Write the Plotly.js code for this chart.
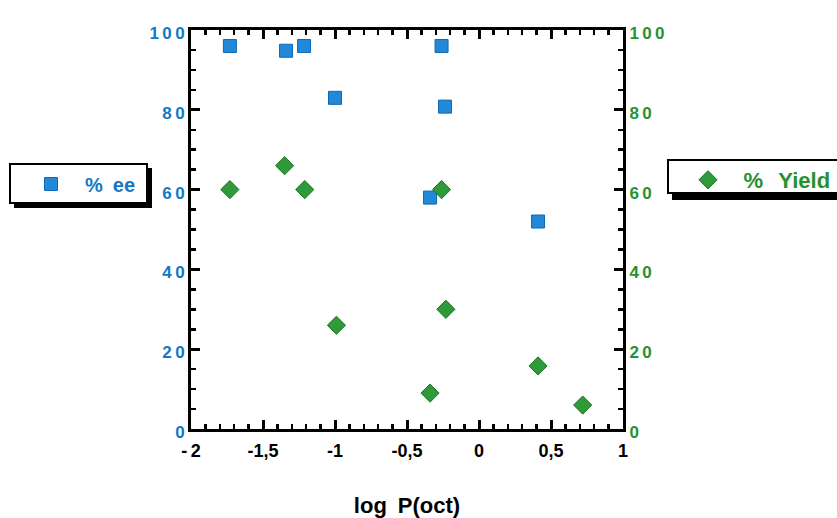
<!DOCTYPE html>
<html>
<head>
<meta charset="utf-8">
<script src="https://cdn.plot.ly/plotly-3.0.1.min.js"></script>
<style>html,body{margin:0;padding:0;background:#fff;}#chart{width:837px;height:518px;}</style>
</head>
<body>
<div id="chart"></div>
<script>
// Data
const logP_ee = [-1.73, -1.34, -1.215, -1.0, -0.34, -0.26, -0.236, 0.41];
const ee      = [96, 94.8, 96, 83, 58, 96, 80.8, 52];
const logP_yield = [-1.73, -1.35, -1.21, -0.99, -0.34, -0.26, -0.23, 0.41, 0.72];
const yieldPct   = [60, 66, 60, 26, 9, 60, 30, 15.8, 6];
const xTickVals = [-2, -1.5, -1, -0.5, 0, 0.5, 1];
const xTickText = ['-\u20092', '-1,5', '-1', '-0,5', '0', '0,5', '1'];
const yTickVals = [0, 20, 40, 60, 80, 100];
const yTickText = ['0', '2\u20090', '4\u20090', '6\u20090', '8\u20090', '1\u20090\u20090'];

const BLUE = '#1278c8', GREEN = '#26922e';
const FONT = 'Liberation Sans, Arial, Helvetica, sans-serif';

const traces = [
  {x: logP_ee, y: ee, name: '\u2002\u2009%\u2002ee', type: 'scatter', mode: 'markers', yaxis: 'y', legend: 'legend',
   marker: {symbol: 'square', size: 13, color: '#2288d8', line: {color: '#0d68b4', width: 1}}},
  {x: logP_yield, y: yieldPct, name: '\u2002\u2009%\u2002\u2009Yield', type: 'scatter', mode: 'markers', yaxis: 'y2', legend: 'legend2',
   marker: {symbol: 'diamond', size: 14, color: '#2f9a3a', line: {color: '#1c7326', width: 1}}}
];

const W = 432, H = 399, L = 191, T = 30;
function px(x) { return (x - L) / W; }
function py(y) { return (T + H - y) / H; }

const axisCommon = {
  showgrid: false, zeroline: false, showline: true, linecolor: '#000', linewidth: 3,
  ticks: 'inside', ticklen: 9, tickwidth: 3, tickcolor: '#000',
};

const layout = {
  width: 837, height: 518,
  margin: {l: L, r: 837 - L - W, t: T, b: 518 - T - H, autoexpand: false},
  paper_bgcolor: '#fff', plot_bgcolor: '#fff',
  font: {family: FONT},
  xaxis: Object.assign({}, axisCommon, {
    range: [-2, 1], tickmode: 'array', tickvals: xTickVals, ticktext: xTickText,
    mirror: 'ticks', automargin: false,
    minor: {dtick: 0.1, ticks: 'inside', ticklen: 5, tickwidth: 2.5, tickcolor: '#000'},
    tickfont: {family: FONT, size: 18, color: '#000', weight: 'bold'},
    ticklabelstandoff: 3,
    title: {text: 'log\u2002P(oct)', font: {family: FONT, size: 22, color: '#000', weight: 'bold'}, standoff: 42}
  }),
  yaxis: Object.assign({}, axisCommon, {
    range: [0, 100], tickmode: 'array', tickvals: yTickVals, ticktext: yTickText, automargin: false,
    minor: {dtick: 5, ticks: 'inside', ticklen: 5, tickwidth: 2.5, tickcolor: '#000'},
    tickfont: {family: FONT, size: 17, color: BLUE, weight: 'bold'},
    ticklabelshift: 3
  }),
  yaxis2: Object.assign({}, axisCommon, {
    range: [0, 100], overlaying: 'y', side: 'right', tickmode: 'array', tickvals: yTickVals, ticktext: yTickText, automargin: false,
    minor: {dtick: 5, ticks: 'inside', ticklen: 5, tickwidth: 2.5, tickcolor: '#000'},
    tickfont: {family: FONT, size: 17, color: GREEN, weight: 'bold'},
    ticklabelshift: 3
  }),
  showlegend: true,
  legend: {x: px(31), y: py(184), xanchor: 'left', yanchor: 'middle', bgcolor: 'rgba(0,0,0,0)', borderwidth: 0,
           font: {family: FONT, size: 20, color: BLUE, weight: 'bold'}},
  legend2: {x: px(688), y: py(180), xanchor: 'left', yanchor: 'middle', bgcolor: 'rgba(0,0,0,0)', borderwidth: 0,
           font: {family: FONT, size: 22, color: GREEN, weight: 'bold'}},
  shapes: [
    {type: 'rect', xref: 'paper', yref: 'paper', x0: px(14), x1: px(152), y0: py(208), y1: py(168), fillcolor: '#000', line: {width: 0}, layer: 'above'},
    {type: 'rect', xref: 'paper', yref: 'paper', x0: px(10), x1: px(147), y0: py(203), y1: py(164), fillcolor: '#fff', line: {color: '#000', width: 2}, layer: 'above'},
    {type: 'rect', xref: 'paper', yref: 'paper', x0: px(672), x1: px(845), y0: py(200), y1: py(164), fillcolor: '#000', line: {width: 0}, layer: 'above'},
    {type: 'rect', xref: 'paper', yref: 'paper', x0: px(668), x1: px(845), y0: py(193), y1: py(160), fillcolor: '#fff', line: {color: '#000', width: 2}, layer: 'above'}
  ]
};

Plotly.newPlot('chart', traces, layout, {displayModeBar: false, staticPlot: true});
</script>
</body>
</html>
